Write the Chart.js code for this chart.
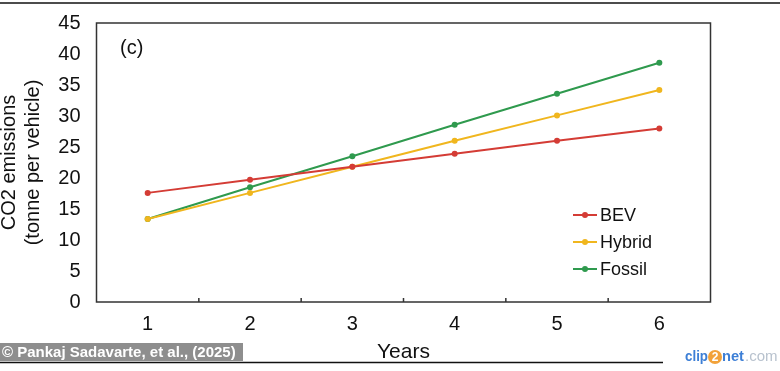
<!DOCTYPE html>
<html lang="en">
<head>
  <meta charset="UTF-8">
  <title>CO2 emissions per vehicle</title>
  <script src="https://cdn.jsdelivr.net/npm/chart.js"></script>
  <style>
    html, body { margin: 0; padding: 0; background: #fff; }
    #wrap { width: 780px; height: 371px; position: relative; }
  </style>
</head>
<body>
  <div id="wrap"><canvas id="chart"></canvas></div>

  <script>
    // data
    const years = ['1', '2', '3', '4', '5', '6'];
    const bev = [17.6, 19.7, 21.8, 23.9, 26.0, 28.0];
    const hybrid = [13.4, 17.6, 21.8, 26.0, 30.1, 34.2];
    const fossil = [13.4, 18.5, 23.5, 28.6, 33.6, 38.6];
    const seriesNames = ['BEV', 'Hybrid', 'Fossil'];
    const seriesColors = ['#d43c35', '#f0b61e', '#2f9a4e'];
    const yMin = 0, yMax = 45, yStep = 5;

    const FONT = 'Arial, "Liberation Sans", sans-serif';

    const makeSet = (label, data, color) => ({
      label, data,
      borderColor: color, backgroundColor: color,
      borderWidth: 2, pointRadius: 3, pointBorderWidth: 0,
      pointHoverRadius: 3, tension: 0
    });

    // frame, inner ticks, legend and the overlays around the figure
    const decor = {
      id: 'decor',
      beforeDatasetsDraw(chart) {
        const { ctx, chartArea: a, scales: { x } } = chart;
        ctx.save();
        ctx.strokeStyle = '#333';
        ctx.lineWidth = 1.5;
        ctx.strokeRect(a.left, a.top, a.right - a.left, a.bottom - a.top);
        // small upward ticks between categories
        ctx.beginPath();
        for (let i = 0; i < years.length - 1; i++) {
          const px = (x.getPixelForValue(i) + x.getPixelForValue(i + 1)) / 2;
          ctx.moveTo(px, a.bottom);
          ctx.lineTo(px, a.bottom - 4);
        }
        ctx.stroke();
        ctx.restore();
      },
      afterDraw(chart) {
        const { ctx } = chart;
        ctx.save();

        // panel label
        ctx.fillStyle = '#111';
        ctx.font = '20px ' + FONT;
        ctx.textBaseline = 'middle';
        ctx.textAlign = 'left';
        ctx.fillText('(c)', 120, 48);

        // legend
        chart.data.datasets.forEach((ds, i) => {
          const y = 215 + i * 27;
          ctx.strokeStyle = ds.borderColor;
          ctx.fillStyle = ds.borderColor;
          ctx.lineWidth = 2;
          ctx.beginPath();
          ctx.moveTo(573, y);
          ctx.lineTo(597, y);
          ctx.stroke();
          ctx.beginPath();
          ctx.arc(585, y, 3, 0, Math.PI * 2);
          ctx.fill();
          ctx.fillStyle = '#111';
          ctx.font = '18px ' + FONT;
          ctx.fillText(ds.label, 600, y + 1);
        });

        // top rule
        ctx.strokeStyle = '#111';
        ctx.lineWidth = 1.5;
        ctx.beginPath();
        ctx.moveTo(0, 3);
        ctx.lineTo(780, 3);
        ctx.stroke();

        // bottom rule
        ctx.beginPath();
        ctx.moveTo(0, 362.5);
        ctx.lineTo(663, 362.5);
        ctx.stroke();

        // credit box
        ctx.fillStyle = '#8e8e8e';
        ctx.fillRect(0, 343, 243, 18);
        ctx.fillStyle = '#fff';
        ctx.font = 'bold 15px ' + FONT;
        ctx.fillText('\u00a9 Pankaj Sadavarte, et al., (2025)', 2, 352.5, 238);

        // clip2net mark
        ctx.font = 'bold 15px ' + FONT;
        ctx.fillStyle = '#3d7fd6';
        ctx.fillText('clip', 685, 357, 23);
        ctx.fillStyle = '#f2a23a';
        ctx.beginPath();
        ctx.arc(715, 357, 7, 0, Math.PI * 2);
        ctx.fill();
        ctx.fillStyle = '#fff';
        ctx.font = 'bold 12px ' + FONT;
        ctx.textAlign = 'center';
        ctx.fillText('2', 715, 357.5);
        ctx.textAlign = 'left';
        ctx.font = 'bold 15px ' + FONT;
        ctx.fillStyle = '#3d7fd6';
        ctx.fillText('net', 722, 357, 22);
        ctx.font = '15px ' + FONT;
        ctx.fillStyle = '#b8c2ce';
        ctx.fillText('.com', 745, 357, 34);

        ctx.restore();
      }
    };

    const chart = new Chart(document.getElementById('chart'), {
      type: 'line',
      data: {
        labels: years,
        datasets: [
          makeSet(seriesNames[0], bev, seriesColors[0]),
          makeSet(seriesNames[1], hybrid, seriesColors[1]),
          makeSet(seriesNames[2], fossil, seriesColors[2])
        ]
      },
      options: {
        responsive: true,
        maintainAspectRatio: false,
        animation: false,
        layout: { padding: { top: 23, right: 69.5, left: 0, bottom: 0 } },
        plugins: {
          legend: { display: false },
          tooltip: { enabled: false }
        },
        scales: {
          x: {
            type: 'category',
            offset: true,
            grid: { display: false, drawTicks: false },
            border: { display: false },
            ticks: { color: '#111', padding: 10, font: { family: FONT, size: 20 } },
            title: {
              display: true, text: 'Years', color: '#111',
              font: { family: FONT, size: 21 }, padding: { top: 0, bottom: 6 }
            },
            afterFit(scale) { scale.height = 69; }
          },
          y: {
            min: yMin, max: yMax,
            // invisible tick marks keep the labels off the axis without
            // inflating the label padding at the top of the plot
            grid: { display: true, drawOnChartArea: false, drawTicks: true, tickLength: 12, color: 'rgba(0,0,0,0)' },
            border: { display: false },
            ticks: { stepSize: yStep, color: '#111', padding: 4, font: { family: FONT, size: 20 } },
            title: {
              display: true, text: ['CO2 emissions', '(tonne per vehicle)'], color: '#111',
              font: { family: FONT, size: 20, lineHeight: 1.2 }, padding: { top: -3, bottom: 0 }
            },
            afterFit(scale) { scale.width = 96.5; }
          }
        }
      },
      plugins: [decor]
    });
  </script>
</body>
</html>
